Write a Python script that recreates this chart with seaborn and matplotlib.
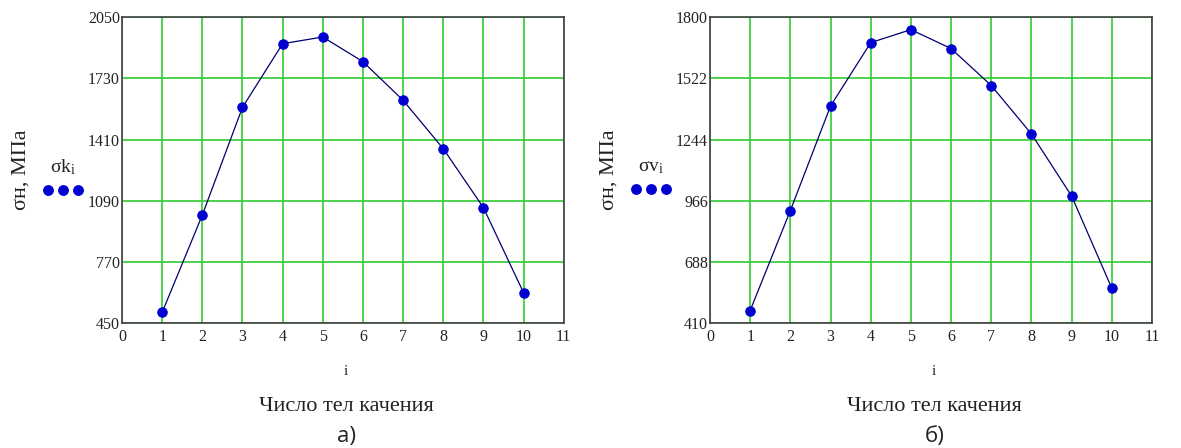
import numpy as np
import pandas as pd
import matplotlib
matplotlib.use('Agg')
import matplotlib.pyplot as plt
import seaborn as sns
from matplotlib.lines import Line2D

# ---- data ----
i_values = [1, 2, 3, 4, 5, 6, 7, 8, 9, 10]
sigma_k = [507, 1016, 1579, 1912, 1947, 1818, 1616, 1363, 1055, 610]
sigma_v = [468, 922, 1397, 1685, 1744, 1658, 1490, 1270, 988, 569]
yticks_k = [450, 770, 1090, 1410, 1730, 2050]
yticks_v = [410, 688, 966, 1244, 1522, 1800]
xticks = [0, 1, 2, 3, 4, 5, 6, 7, 8, 9, 10, 11]
legend_titles = [r'$\mathregular{σk_i}$', r'$\mathregular{σv_i}$']
panel_labels = ['а)', 'б)']
xlabel = 'Число тел качения'
index_label = 'i'
ylabel = 'σн, МПа'

sns.set_theme(style='white')
plt.rcParams['font.family'] = ['Liberation Serif', 'DejaVu Serif']
plt.rcParams['mathtext.default'] = 'regular'

W, H = 1181, 448
fig = plt.figure(figsize=(W / 100, H / 100), dpi=100)
fig.patch.set_facecolor('white')

GREEN = '#30cc30'
NAVY = '#00006e'
BLUE = '#0000d0'
SPINE = '#404040'

panels = [
    dict(left=122, right=563.7, y=sigma_k, yticks=yticks_k, title=legend_titles[0], plabel=panel_labels[0]),
    dict(left=710, right=1152, y=sigma_v, yticks=yticks_v, title=legend_titles[1], plabel=panel_labels[1]),
]
top_px, bot_px = 17.3, 323.3

for k, p in enumerate(panels):
    ax = fig.add_axes([p['left'] / W, 1 - bot_px / H, (p['right'] - p['left']) / W, (bot_px - top_px) / H])
    ax.set_facecolor('white')
    df = pd.DataFrame({'i': i_values, 'v': p['y']})
    sns.lineplot(data=df, x='i', y='v', ax=ax, color=NAVY, linewidth=0.9,
                 marker='o', markersize=6.8, markerfacecolor=BLUE, markeredgecolor=BLUE,
                 zorder=3)
    ax.set_xlim(xticks[0], xticks[-1])
    ax.set_ylim(p['yticks'][0], p['yticks'][-1])
    ax.set_xticks(xticks)
    ax.set_yticks(p['yticks'])
    ax.set_xticklabels([str(t) for t in xticks])
    ax.set_yticklabels([str(t) for t in p['yticks']])
    ax.grid(True, color=GREEN, linewidth=1.2)
    ax.set_axisbelow(True)
    ax.tick_params(axis='both', length=0, labelsize=11.5, colors='#222222')
    ax.tick_params(axis='x', pad=4)
    ax.tick_params(axis='y', pad=1.5)
    ax.set_xlabel('')
    ax.set_ylabel('')
    for s in ax.spines.values():
        s.set_color(SPINE)
        s.set_linewidth(1.2)
        s.set_visible(True)

    off = p['left'] - 122
    # y axis label
    fig.text((21 + off) / W, 1 - 170 / H, ylabel, rotation=90, ha='center', va='center',
             fontsize=16, color='#222222')
    # legend
    handle = Line2D([], [], linestyle='none', marker='o', markersize=6.8,
                    markerfacecolor=BLUE, markeredgecolor=BLUE)
    leg = ax.legend(handles=[handle], labels=[''], numpoints=3, handlelength=2.56,
                    handletextpad=0, borderpad=0, borderaxespad=0, frameon=False,
                    fontsize=11, title=p['title'], title_fontsize=14,
                    loc='center', bbox_to_anchor=((63.3 + off) / W, 1 - 178 / H),
                    bbox_transform=fig.transFigure)
    leg.get_title().set_color('#222222')
    # texts under the axis
    cx = 346 + off
    fig.text(cx / W, 1 - 371.7 / H, index_label, ha='center', va='center', fontsize=11, color='#222222')
    fig.text(cx / W, 1 - 406.7 / H, xlabel, ha='center', va='center', fontsize=16, color='#222222')
    fig.text((cx + 1) / W, 1 - 436.7 / H, p['plabel'], ha='center', va='center', fontsize=16,
             family=['Open Sans', 'DejaVu Sans'], color='#222222')

fig.savefig('out.png', dpi=100, facecolor='white')
